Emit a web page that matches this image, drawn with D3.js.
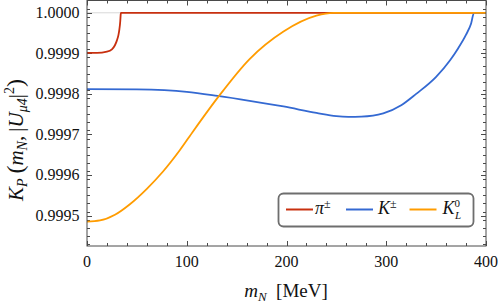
<!DOCTYPE html>
<html>
<head>
<meta charset="utf-8">
<script src="https://cdn.jsdelivr.net/npm/d3@7"></script>
<style>
  body { margin: 0; background: #fff; }
  svg { display: block; font-family: "Liberation Serif", "DejaVu Serif", serif; }
</style>
</head>
<body>
<div id="chart"></div>
<script>
const piMass = [0, 10, 20, 25, 28, 30, 31.5, 32.5, 33.3, 33.7, 33.9, 100, 200, 300, 400]
const piVal  = [0.999901, 0.999901, 0.999904, 0.999910, 0.999920, 0.999932, 0.999945, 0.999960, 0.999978, 0.999993, 1.0, 1.0, 1.0, 1.0, 1.0]

const kMass = [0, 50, 100, 131, 163, 197, 230, 250, 262, 275, 297, 315, 330, 350, 364, 372, 380, 385, 388, 400]
const kVal  = [0.999812, 0.999811, 0.999805, 0.999795, 0.999783, 0.999769, 0.999753, 0.999745, 0.9997435, 0.999744, 0.999752, 0.999772, 0.999800, 0.999842, 0.999883, 0.999912, 0.999946, 0.999973, 1.0, 1.0]

const kLMass = [0, 13, 28, 43, 60, 76, 93, 107, 132, 163, 197, 230, 247, 300, 400]
const kLVal  = [0.999485, 0.999488, 0.999502, 0.999528, 0.999566, 0.999608, 0.999661, 0.999710, 0.999794, 0.999886, 0.999954, 0.999993, 1.0, 1.0, 1.0]

const xTicks = [0, 100, 200, 300, 400]
const yTicks = [0.9995, 0.9996, 0.9997, 0.9998, 0.9999, 1.0]

const seriesNames = ['pi', 'K', 'KL']
const colors = {pi: '#c8300f', K: '#3469d2', KL: '#ff9c00'}

const width = 498, height = 305
const plot = {left: 87, right: 486, top: 0.5, bottom: 246}

const svg = d3.select('#chart').append('svg')
    .attr('width', width)
    .attr('height', height)

const xScale = d3.scaleLinear().domain([0, 400]).range([plot.left, plot.right])
const yScale = d3.scaleLinear().domain([0.999425, 1.0000303]).range([plot.bottom, plot.top])

const frameColor = '#4a4a4a'

// reference line at 1
svg.append('line')
    .attr('x1', plot.left).attr('x2', plot.right)
    .attr('y1', yScale(1)).attr('y2', yScale(1))
    .attr('stroke', '#d8d8d8').attr('stroke-width', 1)

// ticks, all pointing inward, on all four sides
const xMinor = d3.range(0, 401, 20).filter(v => v % 100 !== 0)
const yMinor = d3.range(0, 30).map(i => 0.99943 + i * 0.00002).filter(v => v <= 1.00003)
    .filter(v => !yTicks.some(t => Math.abs(t - v) < 1e-9))

const tickG = svg.append('g').attr('stroke', frameColor).attr('stroke-width', 1)
const xAll = xTicks.map(v => ({v, len: 5})).concat(xMinor.map(v => ({v, len: 3})))
const yAll = yTicks.map(v => ({v, len: 5})).concat(yMinor.map(v => ({v, len: 3})))

xAll.forEach(t => {
    const x = Math.round(xScale(t.v)) + 0.5
    tickG.append('line').attr('x1', x).attr('x2', x).attr('y1', plot.bottom).attr('y2', plot.bottom - t.len)
    tickG.append('line').attr('x1', x).attr('x2', x).attr('y1', plot.top).attr('y2', plot.top + t.len)
})
yAll.forEach(t => {
    const y = Math.round(yScale(t.v)) + 0.5
    tickG.append('line').attr('x1', plot.left).attr('x2', plot.left + t.len).attr('y1', y).attr('y2', y)
    tickG.append('line').attr('x1', plot.right).attr('x2', plot.right - t.len).attr('y1', y).attr('y2', y)
})

// curves
const data = {
    pi: piMass.map((m, i) => [m, piVal[i]]),
    K: kMass.map((m, i) => [m, kVal[i]]),
    KL: kLMass.map((m, i) => [m, kLVal[i]])
}
const line = d3.line()
    .x(d => xScale(d[0]))
    .y(d => yScale(d[1]))
    .curve(d3.curveMonotoneX)

const curveG = svg.append('g')
seriesNames.forEach(k => {
    curveG.append('path')
        .attr('d', line(data[k]))
        .attr('fill', 'none')
        .attr('stroke', colors[k])
        .attr('stroke-width', 1.8)
})

// frame
svg.append('rect')
    .attr('x', plot.left).attr('y', plot.top)
    .attr('width', plot.right - plot.left).attr('height', plot.bottom - plot.top)
    .attr('fill', 'none').attr('stroke', frameColor).attr('stroke-width', 1)

// tick labels
svg.append('g').selectAll('text').data(xTicks).join('text')
    .attr('x', d => xScale(d))
    .attr('y', 267)
    .attr('text-anchor', 'middle')
    .attr('font-size', 16)
    .attr('fill', '#111')
    .text(d => d)

svg.append('g').selectAll('text').data(yTicks).join('text')
    .attr('x', 79.5)
    .attr('y', d => yScale(d))
    .attr('dy', '0.34em')
    .attr('text-anchor', 'end')
    .attr('font-size', 16)
    .attr('fill', '#111')
    .text(d => d3.format('.4f')(d))

// axis labels
const xLab = svg.append('text')
    .attr('x', 286).attr('y', 297)
    .attr('text-anchor', 'middle')
    .attr('font-size', 19)
    .attr('fill', '#111')
xLab.append('tspan').attr('font-style', 'italic').text('m')
xLab.append('tspan').attr('font-style', 'italic').attr('font-size', 13).attr('dy', 4).text('N')
xLab.append('tspan').attr('dy', -4).text('\u2002[MeV]')

const yLab = svg.append('text')
    .attr('transform', 'translate(23,140) rotate(-90)')
    .attr('text-anchor', 'middle')
    .attr('font-size', 21)
    .attr('fill', '#111')
yLab.append('tspan').attr('font-style', 'italic').text('K')
yLab.append('tspan').attr('font-style', 'italic').attr('font-size', 14).attr('dy', 4).text('P')
yLab.append('tspan').attr('dy', -4).attr('font-size', 24).text('\u2009(')
yLab.append('tspan').attr('font-style', 'italic').text('m')
yLab.append('tspan').attr('font-style', 'italic').attr('font-size', 14).attr('dy', 4).text('N')
yLab.append('tspan').attr('dy', -4).text(',\u2009|')
yLab.append('tspan').attr('font-style', 'italic').text('U')
yLab.append('tspan').attr('font-style', 'italic').attr('font-size', 14).attr('dy', 4).text('μ4')
yLab.append('tspan').attr('dy', -4).text('|')
yLab.append('tspan').attr('font-size', 14).attr('dy', -9).text('2')
yLab.append('tspan').attr('font-size', 24).attr('dy', 9).text(')')

// legend
const legendG = svg.append('g').attr('class', 'legend')
legendG.append('rect')
    .attr('x', 278.5).attr('y', 193.5)
    .attr('width', 195).attr('height', 33)
    .attr('rx', 5)
    .attr('fill', '#fff')
    .attr('stroke', '#6e6e6e')
    .attr('stroke-width', 1.8)

const legendX = {pi: 286, K: 346, KL: 409.5}
seriesNames.forEach(k => {
    legendG.append('line')
        .attr('x1', legendX[k]).attr('x2', legendX[k] + 27)
        .attr('y1', 209.5).attr('y2', 209.5)
        .attr('stroke', colors[k]).attr('stroke-width', 2)
})

const lp = legendG.append('text').attr('x', 315).attr('y', 214).attr('font-size', 18).attr('fill', '#111')
lp.append('tspan').attr('font-style', 'italic').text('π')
lp.append('tspan').attr('font-size', 12).attr('dy', -6).text('±')

const lk = legendG.append('text').attr('x', 378).attr('y', 214).attr('font-size', 18).attr('fill', '#111')
lk.append('tspan').attr('font-style', 'italic').text('K')
lk.append('tspan').attr('font-size', 12).attr('dy', -6).text('±')

const lkl = legendG.append('text').attr('x', 442.5).attr('y', 214).attr('font-size', 18).attr('fill', '#111')
lkl.append('tspan').attr('font-style', 'italic').text('K')
lkl.append('tspan').attr('font-size', 11).attr('dy', -7).text('0')
// subscript as its own text so it does not overlap the superscript box
legendG.append('text').attr('x', 455).attr('y', 219).attr('font-size', 11)
    .attr('font-style', 'italic').attr('fill', '#111').text('L')
</script>
</body>
</html>
